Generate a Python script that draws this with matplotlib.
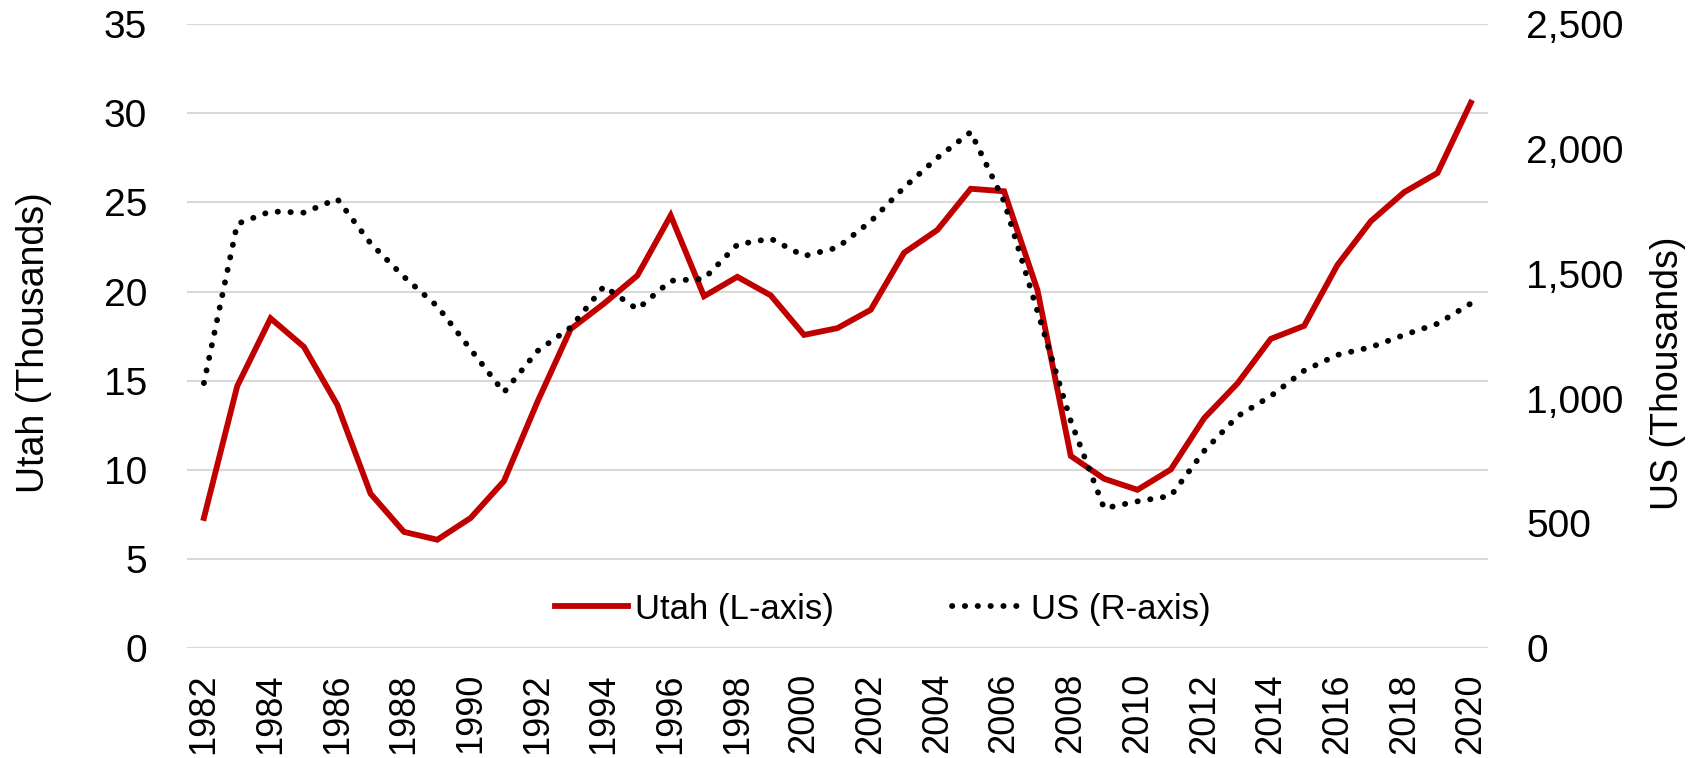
import matplotlib
matplotlib.use("Agg")
import matplotlib.pyplot as plt

years = list(range(1982, 2021))
utah = [7.3, 14.7, 18.5, 16.9, 13.65, 8.66, 6.52, 6.08, 7.3, 9.37,
        13.8, 17.9, 19.33, 20.9, 24.27, 19.74, 20.83, 19.79, 17.57, 17.95,
        18.98, 22.18, 23.46, 25.77, 25.63, 20.09, 10.78, 9.5, 8.88, 10.02,
        12.9, 14.85, 17.35, 18.08, 21.5, 23.95, 25.58, 26.66, 30.6]
us = [1062, 1700, 1750, 1745, 1800, 1622, 1488, 1370, 1197, 1025,
      1190, 1285, 1450, 1358, 1472, 1480, 1617, 1641, 1571, 1605,
      1710, 1846, 1965, 2068, 1790, 1350, 910, 560, 588, 610,
      790, 929, 1010, 1112, 1175, 1206, 1255, 1300, 1381]
left_ticks = [0, 5, 10, 15, 20, 25, 30, 35]
right_ticks = [0, 500, 1000, 1500, 2000, 2500]

plt.rcParams['font.family'] = ['Liberation Sans', 'DejaVu Sans']

fig = plt.figure(figsize=(17.02, 7.58), dpi=100)
ax = fig.add_axes([0.110, 0.145, 0.764, 0.823])
ax2 = ax.twinx()

l1, = ax.plot(years, utah, color='#C00000', lw=4.2, label='Utah (L-axis)',
              solid_joinstyle='miter', zorder=3)
l2, = ax2.plot(years, us, color='black', lw=4.2, linestyle=(0, (0.05, 2.15)),
               dash_capstyle='round', label='US (R-axis)')

ax.set_xlim(1981.5, 2020.5)
ax.set_ylim(0, 35)
ax2.set_ylim(0, 2500)
ax.set_yticks(left_ticks)
ax2.set_yticks(right_ticks)
ax2.set_yticklabels([f'{v:,}' for v in right_ticks])
ax.set_xticks(years[::2])
ax.set_xticklabels([str(y) for y in years[::2]], rotation=90)

ax.grid(axis='y', color='#D9D9D9', lw=1.5)
ax.set_axisbelow(True)
for a in (ax, ax2):
    for s in a.spines.values():
        s.set_visible(False)
ax.tick_params(axis='y', length=0, labelsize=28, pad=29)
ax.tick_params(axis='x', length=0, labelsize=26, pad=18)
ax2.tick_params(axis='y', length=0, labelsize=28, pad=28)

ax.set_ylabel('Utah (Thousands)', fontsize=27)
ax2.set_ylabel('US (Thousands)', fontsize=27)
ax.yaxis.set_label_coords(-0.104, 0.49)
ax2.yaxis.set_label_coords(1.1246, 0.44)

ax.legend(handles=[l1, l2], loc='center', bbox_to_anchor=(0.535, 0.0625),
          ncol=2, frameon=False, fontsize=25, handlelength=2.1,
          columnspacing=3.4, handletextpad=0.2)

fig.savefig('out.png', dpi=100)
